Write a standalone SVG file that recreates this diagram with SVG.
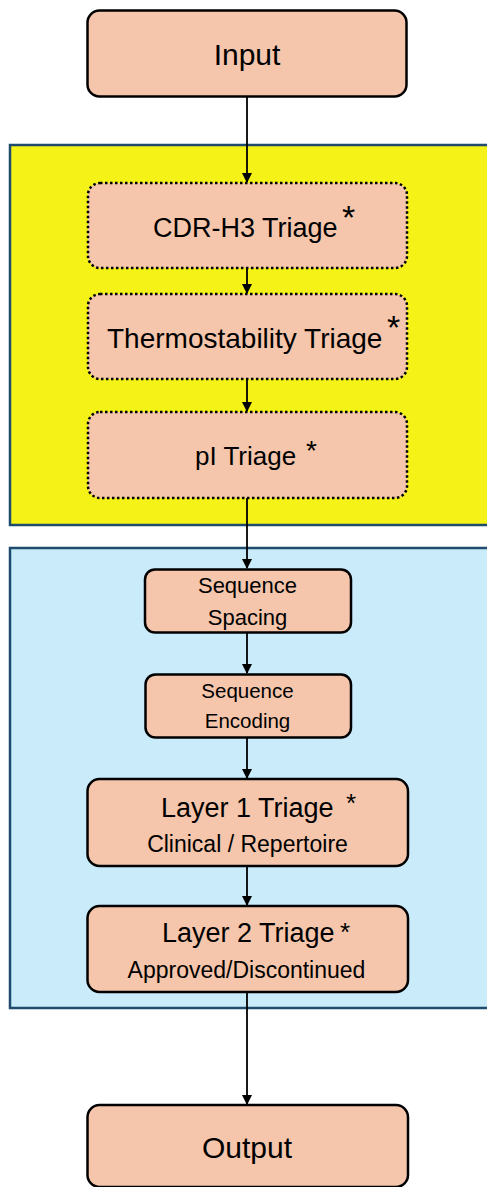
<svg xmlns="http://www.w3.org/2000/svg" width="487" height="1187" viewBox="0 0 487 1187">
<style>
.node{fill:#f5c6ab;stroke:#000;stroke-width:2.5}
.dot{fill:#f5c6ab;stroke:#000;stroke-width:2.5;stroke-dasharray:2.5 2.5}
.t{font-family:"Liberation Sans",Arial,sans-serif;fill:#000}
.c{text-anchor:middle}
.edge{stroke:#000;stroke-width:1.8;fill:none}
</style>
<defs>
<marker id="ah" markerUnits="userSpaceOnUse" markerWidth="10" markerHeight="11" refX="9" refY="5" orient="auto" viewBox="0 0 10 10">
<path d="M0,0 L10,5 L0,10 z" fill="#000"/>
</marker>
</defs>
<rect id="bg" x="0" y="0" width="487" height="1187" fill="#fff"/>
<g id="group-yellow"><rect x="10" y="145" width="490" height="380" fill="#f5f217" stroke="#1f4b6e" stroke-width="2.5"/></g>
<g id="group-blue"><rect x="10" y="548" width="490" height="460" fill="#c9ebfa" stroke="#1f4b6e" stroke-width="2.5"/></g>
<g id="connectors">
<line class="edge" x1="247" y1="97" x2="247" y2="182" marker-end="url(#ah)"/>
<line class="edge" x1="247" y1="268" x2="247" y2="293" marker-end="url(#ah)"/>
<line class="edge" x1="247" y1="379" x2="247" y2="411" marker-end="url(#ah)"/>
<line class="edge" x1="247" y1="498" x2="247" y2="568" marker-end="url(#ah)"/>
<line class="edge" x1="247" y1="633" x2="247" y2="673" marker-end="url(#ah)"/>
<line class="edge" x1="247" y1="738" x2="247" y2="778" marker-end="url(#ah)"/>
<line class="edge" x1="247" y1="866" x2="247" y2="905" marker-end="url(#ah)"/>
<line class="edge" x1="247" y1="992" x2="247" y2="1104" marker-end="url(#ah)"/>
</g>
<g id="input"><rect class="node" x="87.5" y="10.5" width="319" height="86" rx="12"/><text class="t c" x="247" y="65" font-size="30">Input</text></g>
<g id="cdr-h3"><rect class="dot" x="88" y="183" width="319" height="85" rx="12"/><text class="t" x="153" y="237" font-size="27">CDR-H3 Triage<tspan x="342" y="229" font-size="34">*</tspan></text></g>
<g id="thermo"><rect class="dot" x="88" y="294" width="319" height="85" rx="12"/><text class="t" x="107" y="348" font-size="28">Thermostability Triage<tspan x="387" y="339" font-size="34">*</tspan></text></g>
<g id="pi"><rect class="dot" x="88" y="412" width="319" height="86" rx="12"/><text class="t" x="195" y="465" font-size="26">pI Triage<tspan x="306" y="460" font-size="28">*</tspan></text></g>
<g id="seq-spacing"><rect class="node" x="145" y="569.5" width="206" height="63" rx="10"/><text class="t c" x="247.5" y="593" font-size="22">Sequence</text><text class="t c" x="247.5" y="625" font-size="22">Spacing</text></g>
<g id="seq-encoding"><rect class="node" x="145.5" y="674.5" width="205.5" height="63" rx="10"/><text class="t c" x="247.5" y="698" font-size="20.5">Sequence</text><text class="t c" x="247.5" y="728" font-size="20.5">Encoding</text></g>
<g id="layer1"><rect class="node" x="87.5" y="779" width="320.5" height="87" rx="12"/><text class="t" x="161" y="817" font-size="27">Layer 1 Triage<tspan x="346" y="812" font-size="26">*</tspan></text><text class="t c" x="247.5" y="852" font-size="23">Clinical / Repertoire</text></g>
<g id="layer2"><rect class="node" x="87.5" y="906" width="320.5" height="86" rx="12"/><text class="t" x="162" y="942" font-size="27">Layer 2 Triage<tspan x="340" y="941" font-size="26">*</tspan></text><text class="t c" x="246.5" y="978" font-size="23">Approved/Discontinued</text></g>
<g id="output"><rect class="node" x="87.5" y="1105" width="320.5" height="82" rx="12"/><text class="t c" x="247" y="1158" font-size="30">Output</text></g>
</svg>
